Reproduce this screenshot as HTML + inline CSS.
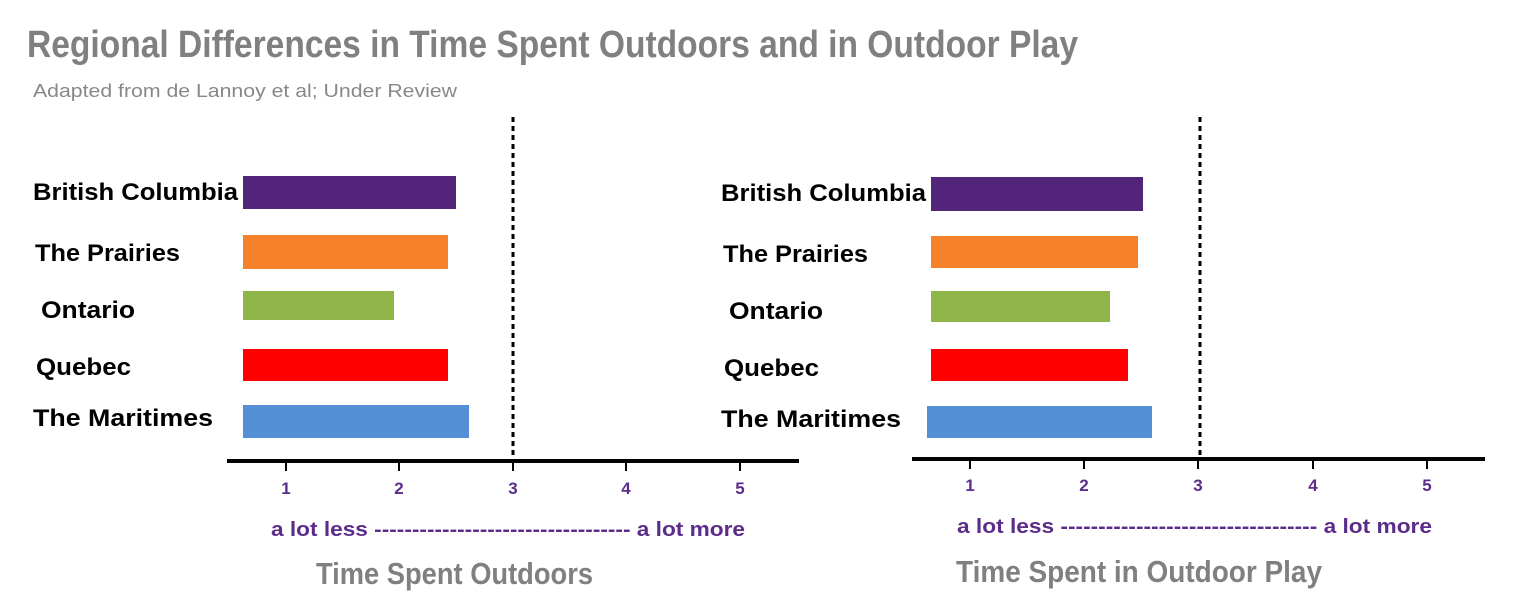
<!DOCTYPE html>
<html><head><style>body{margin:0;background:#fff}svg{display:block}</style></head><body>
<svg width="1536" height="614" viewBox="0 0 1536 614" xmlns="http://www.w3.org/2000/svg">
<g font-family="Liberation Sans, sans-serif">
<text x="27" y="57" font-size="38" font-weight="bold" fill="#808080" textLength="1051" lengthAdjust="spacingAndGlyphs">Regional Differences in Time Spent Outdoors and in Outdoor Play</text>
<text x="33" y="97" font-size="18" fill="#888" textLength="424" lengthAdjust="spacingAndGlyphs">Adapted from de Lannoy et al; Under Review</text>

<!-- left chart -->
<line x1="513" y1="117" x2="513" y2="461" stroke="#000" stroke-width="3" stroke-dasharray="5,4"/>
<rect x="243" y="176" width="213" height="33" fill="#52247a"/>
<rect x="243" y="235" width="205" height="34" fill="#f5822a"/>
<rect x="243" y="291" width="151" height="29" fill="#8fb54a"/>
<rect x="243" y="349" width="205" height="32" fill="#ff0000"/>
<rect x="243" y="405" width="226" height="33" fill="#5590d6"/>
<line x1="227" y1="461" x2="799" y2="461" stroke="#000" stroke-width="4"/>
<g stroke="#000" stroke-width="2"><line x1="286" y1="461" x2="286" y2="471"/><line x1="399" y1="461" x2="399" y2="471"/><line x1="513" y1="461" x2="513" y2="471"/><line x1="626" y1="461" x2="626" y2="471"/><line x1="740" y1="461" x2="740" y2="471"/></g>
<g font-size="17" font-weight="bold" fill="#5b2c8a" text-anchor="middle"><text x="286" y="494">1</text><text x="399" y="494">2</text><text x="513" y="494">3</text><text x="626" y="494">4</text><text x="740" y="494">5</text></g>
<text x="271" y="536" font-size="20" font-weight="bold" fill="#5b2c8a" textLength="474" lengthAdjust="spacingAndGlyphs">a lot less ---------------------------------- a lot more</text>
<text x="316" y="584" font-size="31" font-weight="bold" fill="#808080" textLength="277" lengthAdjust="spacingAndGlyphs">Time Spent Outdoors</text>
<g font-size="24" font-weight="bold" fill="#000">
<text x="33" y="200" textLength="205" lengthAdjust="spacingAndGlyphs">British Columbia</text>
<text x="35" y="261" textLength="145" lengthAdjust="spacingAndGlyphs">The Prairies</text>
<text x="41" y="318" textLength="94" lengthAdjust="spacingAndGlyphs">Ontario</text>
<text x="36" y="375" textLength="95" lengthAdjust="spacingAndGlyphs">Quebec</text>
<text x="33" y="426" textLength="180" lengthAdjust="spacingAndGlyphs">The Maritimes</text>
</g>

<!-- right chart -->
<line x1="1200" y1="117" x2="1200" y2="459" stroke="#000" stroke-width="3" stroke-dasharray="5,4"/>
<rect x="931" y="177" width="212" height="34" fill="#52247a"/>
<rect x="931" y="236" width="207" height="32" fill="#f5822a"/>
<rect x="931" y="291" width="179" height="31" fill="#8fb54a"/>
<rect x="931" y="349" width="197" height="32" fill="#ff0000"/>
<rect x="927" y="406" width="225" height="32" fill="#5590d6"/>
<line x1="912" y1="459" x2="1485" y2="459" stroke="#000" stroke-width="4"/>
<g stroke="#000" stroke-width="2"><line x1="970" y1="459" x2="970" y2="469"/><line x1="1084" y1="459" x2="1084" y2="469"/><line x1="1198" y1="459" x2="1198" y2="469"/><line x1="1313" y1="459" x2="1313" y2="469"/><line x1="1427" y1="459" x2="1427" y2="469"/></g>
<g font-size="17" font-weight="bold" fill="#5b2c8a" text-anchor="middle"><text x="970" y="491">1</text><text x="1084" y="491">2</text><text x="1198" y="491">3</text><text x="1313" y="491">4</text><text x="1427" y="491">5</text></g>
<text x="957" y="533" font-size="20" font-weight="bold" fill="#5b2c8a" textLength="475" lengthAdjust="spacingAndGlyphs">a lot less ---------------------------------- a lot more</text>
<text x="956" y="582" font-size="31" font-weight="bold" fill="#808080" textLength="366" lengthAdjust="spacingAndGlyphs">Time Spent in Outdoor Play</text>
<g font-size="24" font-weight="bold" fill="#000">
<text x="721" y="201" textLength="205" lengthAdjust="spacingAndGlyphs">British Columbia</text>
<text x="723" y="262" textLength="145" lengthAdjust="spacingAndGlyphs">The Prairies</text>
<text x="729" y="319" textLength="94" lengthAdjust="spacingAndGlyphs">Ontario</text>
<text x="724" y="376" textLength="95" lengthAdjust="spacingAndGlyphs">Quebec</text>
<text x="721" y="427" textLength="180" lengthAdjust="spacingAndGlyphs">The Maritimes</text>
</g>
</g>
</svg>
</body></html>
